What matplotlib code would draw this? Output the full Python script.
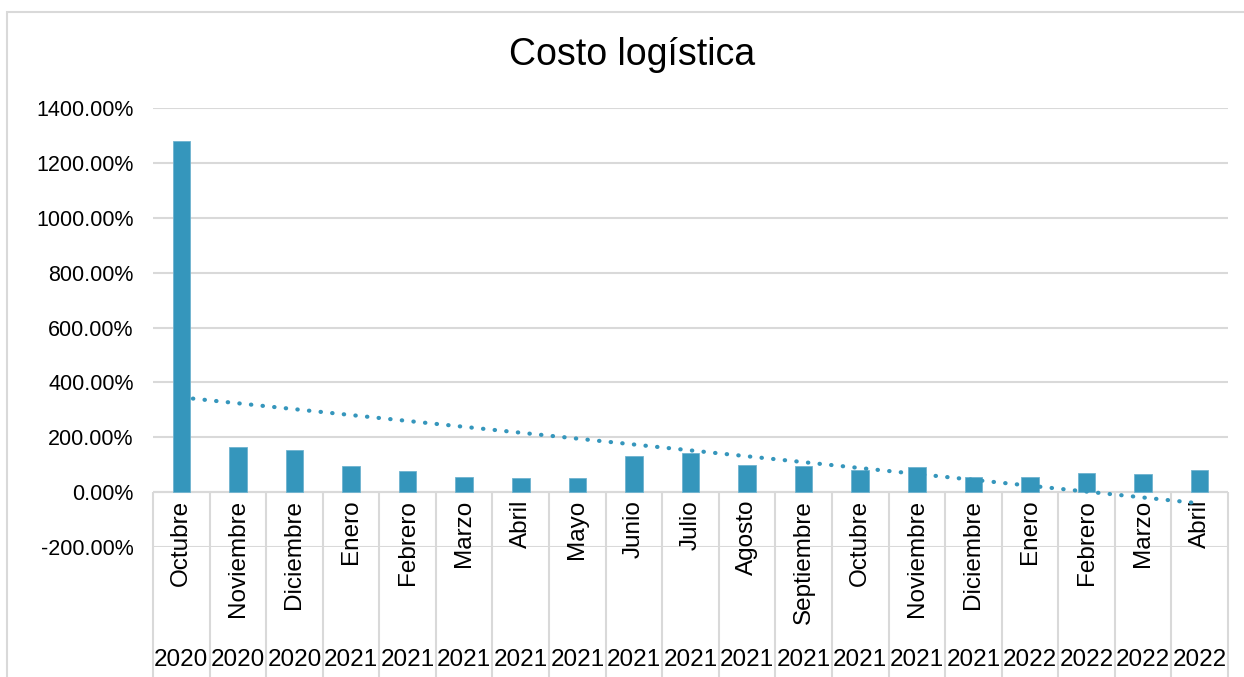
import numpy as np
import matplotlib
matplotlib.use('Agg')
import matplotlib.pyplot as plt
from matplotlib.patches import Rectangle

plt.rcParams['font.family'] = ['Liberation Sans', 'DejaVu Sans']

meses = ['Octubre', 'Noviembre', 'Diciembre', 'Enero', 'Febrero', 'Marzo', 'Abril',
         'Mayo', 'Junio', 'Julio', 'Agosto', 'Septiembre', 'Octubre', 'Noviembre',
         'Diciembre', 'Enero', 'Febrero', 'Marzo', 'Abril']
anios = ['2020', '2020', '2020', '2021', '2021', '2021', '2021', '2021', '2021', '2021',
         '2021', '2021', '2021', '2021', '2021', '2022', '2022', '2022', '2022']
costo = [1279, 164, 153, 97, 76, 55, 51, 53, 130, 142, 98, 97, 79, 92, 55, 56, 69, 65, 80]
yticks = [-200, 0, 200, 400, 600, 800, 1000, 1200, 1400]

W, H = 1244, 677
fig = plt.figure(figsize=(W / 100, H / 100), dpi=100)
blue = '#3596bc'
grid = '#d9d9d9'

# chart border
fig.patches.append(Rectangle((7 / W, -0.1), 1.2, 1 - 12 / H + 0.1, transform=fig.transFigure,
                             fill=False, edgecolor=grid, linewidth=1.5))

ax = fig.add_axes([153 / W, (H - 547) / H, (1228 - 153) / W, (547 - 108) / H])
x = np.arange(len(costo))
ax.bar(x, costo, width=0.31, color=blue, edgecolor='#6fb3cf', linewidth=0.6, zorder=3)

# linear trendline
p = np.polyfit(x, costo, 1)
ax.plot(x, np.polyval(p, x), linestyle=(0, (0.1, 2.7)), dash_capstyle='round',
        color=blue, linewidth=3, zorder=4)

ax.set_xlim(-0.5, len(costo) - 0.5)
ax.set_ylim(-200, 1400)
ax.set_yticks(yticks)
ax.set_yticklabels([f'{v:.2f}%' for v in yticks], fontsize=15.5)
ax.tick_params(axis='y', length=0, pad=14)
ax.set_xticks([])
for s in ax.spines.values():
    s.set_visible(False)
ax.grid(axis='y', color=grid, linewidth=1.5, zorder=0)
ax.axhline(0, color=grid, linewidth=1.5, zorder=1)

# category dividers below the axis
ax.vlines(np.arange(len(costo) + 1) - 0.5, 0, -680, colors=grid, linewidth=1.5, clip_on=False)
for i in x:
    ax.text(i, -28, meses[i], rotation=90, ha='center', va='top', fontsize=17.5, clip_on=False)
    ax.text(i, -612, anios[i], ha='center', va='center', fontsize=17.5, clip_on=False)

fig.text(632 / W, 1 - 55 / H, 'Costo logística', ha='center', va='center', fontsize=27)

fig.savefig('out.png', dpi=100)
